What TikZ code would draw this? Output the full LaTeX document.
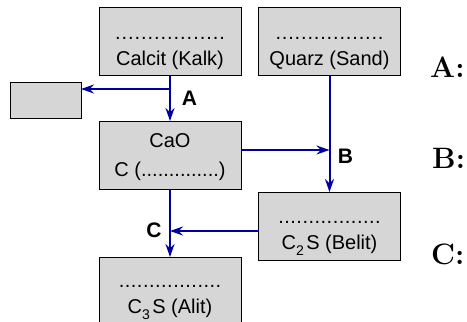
\documentclass[tikz,border=0pt]{standalone}
\usepackage{fontspec}
\setsansfont{Liberation Sans}
\usetikzlibrary{arrows.meta}
\definecolor{boxgray}{RGB}{214,214,214}
\definecolor{arrowblue}{RGB}{0,0,160}
\newcommand\dotrow[1]{\hbox to \dimexpr #1*17\relax{\leaders\hbox to #1{\hss.\hss}\hfill}}
\newcommand\subdigit[1]{\raisebox{-6pt}{\fontsize{14}{14}\selectfont #1}\hspace{2.5pt}}
\begin{document}
\begin{tikzpicture}[x=1pt,y=-1pt,
  box/.style={draw=black, line width=0.9pt, fill=boxgray, minimum width=142pt, minimum height=68pt, inner sep=0pt, outer sep=0pt},
  boxtext/.style={font=\sffamily\fontsize{20}{24}\selectfont, anchor=base, inner sep=0pt},
  flow/.style={draw=arrowblue, line width=2pt, -{Stealth[length=13pt,width=9pt,inset=4.5pt]}},
  steplabel/.style={font=\sffamily\bfseries\fontsize{21}{24}\selectfont, inner sep=0pt, anchor=base},
  qlabel/.style={font=\bfseries\fontsize{29.5}{34}\selectfont, inner sep=0pt, anchor=base west}]
\useasboundingbox (0,0) rectangle (467,322);
\clip (0,0) rectangle (467,322);

\node[box] (calcit) at (170,41) {};
\node[boxtext] (calcitdots) at (170,39) {\dotrow{6.5pt}};
\node[boxtext] (calcitname) at (170,65) {Calcit (Kalk)};

\node[box] (quarz) at (329.5,41) {};
\node[boxtext] (quarzdots) at (329.5,39) {\dotrow{6.4pt}};
\node[boxtext] (quarzname) at (329.5,65) {Quarz (Sand)};

\node[box, minimum width=71pt, minimum height=36pt] (waste) at (45.5,100) {};

\node[box] (cao) at (170,155) {};
\node[boxtext] (caoname) at (170,147) {CaO};
\node[boxtext] (caoformula) at (170,176) {C (..............)};

\node[box] (belit) at (329.5,226) {};
\node[boxtext] (belitdots) at (329.5,223) {\dotrow{6.05pt}};
\node[boxtext] (belitname) at (329.5,249) {C\subdigit{2}S (Belit)};

\node[box] (alit) at (170,291) {};
\node[boxtext] (alitdots) at (170,287) {\dotrow{6.05pt}};
\node[boxtext] (alitname) at (170,313) {C\subdigit{3}S (Alit)};

% A
\coordinate (abranch) at (170,89);
\draw[flow] (calcit.south) -- (cao.north);
\draw[flow] (abranch) -- (abranch -| waste.east);
\node[steplabel] (la) at (189.5,105) {A};

% B
\coordinate (bjoin) at (329.5,150);
\draw[flow] (bjoin -| cao.east) -- (bjoin);
\draw[flow] (quarz.south) -- (belit.north);
\node[steplabel] (lb) at (345.5,163) {B};

% C
\coordinate (cjoin) at (170,231);
\draw[flow] (cao.south) -- (alit.north);
\draw[flow] (cjoin -| belit.west) -- (cjoin);
\node[steplabel] (lc) at (154,237) {C};

\node[qlabel] (qa) at (430,77) {A:};
\node[qlabel] (qb) at (432,168) {B:};
\node[qlabel] (qc) at (431,264) {C:};
\end{tikzpicture}
\end{document}
